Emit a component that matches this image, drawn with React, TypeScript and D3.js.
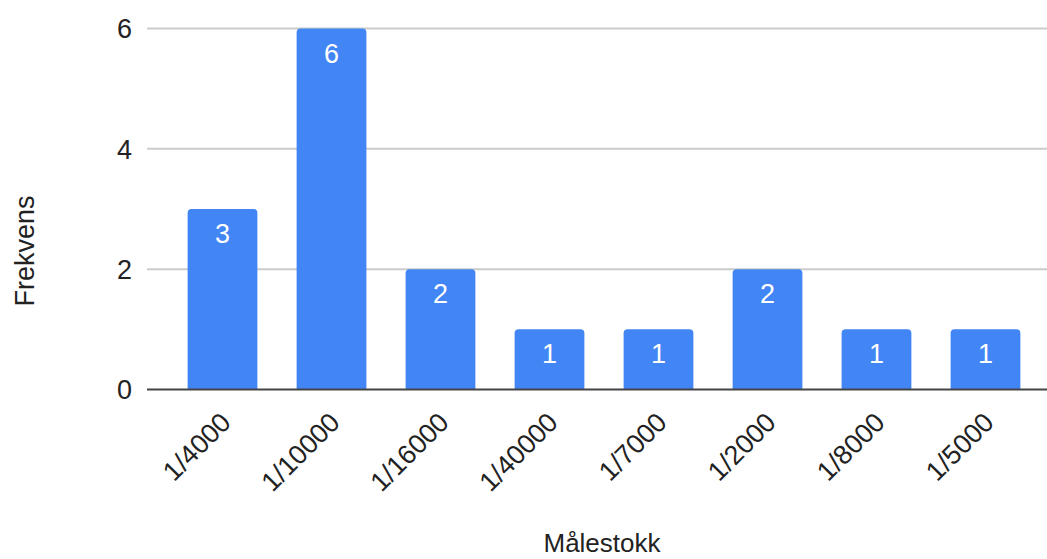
import { useEffect, useRef } from 'react'
import * as d3 from 'd3'

const categories = ['1/4000', '1/10000', '1/16000', '1/40000', '1/7000', '1/2000', '1/8000', '1/5000']
const counts = [3, 6, 2, 1, 1, 2, 1, 1]
const yTicks = [0, 2, 4, 6]

const WIDTH = 1047
const HEIGHT = 559
const BAR_COLOR = '#4285f4'
const FONT = 'Arial, "Liberation Sans", sans-serif'

export default function App() {
  const svgRef = useRef<SVGSVGElement>(null)

  useEffect(() => {
    if (!svgRef.current) return
    const svg = d3.select(svgRef.current)
    svg.selectAll('*').remove()

    const gridLeft = 147
    const gridRight = 1047

    const x = d3.scaleBand<string>()
      .domain(categories)
      .range([168, 1040])
      .paddingInner(0.36)
      .paddingOuter(0.18)

    const y = d3.scaleLinear().domain([0, 6]).range([389.5, 28.5])

    // gridlines
    svg.append('g')
      .selectAll('line')
      .data(yTicks.filter(t => t !== 0))
      .enter()
      .append('line')
      .attr('x1', gridLeft)
      .attr('x2', gridRight)
      .attr('y1', d => y(d))
      .attr('y2', d => y(d))
      .attr('stroke', '#cccccc')
      .attr('stroke-width', 2)

    // y tick labels
    svg.append('g')
      .selectAll('text')
      .data(yTicks)
      .enter()
      .append('text')
      .attr('x', 132)
      .attr('y', d => y(d))
      .attr('dy', '0.36em')
      .attr('text-anchor', 'end')
      .attr('font-family', FONT)
      .attr('font-size', 27)
      .attr('fill', '#222')
      .text(d => d)

    // bars with rounded top corners
    const r = 4
    const bars = svg.append('g')
      .selectAll('g')
      .data(categories.map((c, i) => ({ label: c, value: counts[i] })))
      .enter()
      .append('g')

    bars.append('path')
      .attr('d', d => {
        const x0 = x(d.label)!
        const x1 = x0 + x.bandwidth()
        const top = y(d.value)
        const bottom = y(0)
        return `M${x0},${bottom}V${top + r}Q${x0},${top} ${x0 + r},${top}H${x1 - r}Q${x1},${top} ${x1},${top + r}V${bottom}Z`
      })
      .attr('fill', BAR_COLOR)

    bars.append('text')
      .attr('x', d => x(d.label)! + x.bandwidth() / 2)
      .attr('y', d => y(d.value) + 34)
      .attr('text-anchor', 'middle')
      .attr('font-family', FONT)
      .attr('font-size', 27)
      .attr('fill', '#ffffff')
      .text(d => d.value)

    // baseline
    svg.append('line')
      .attr('x1', gridLeft)
      .attr('x2', gridRight)
      .attr('y1', y(0))
      .attr('y2', y(0))
      .attr('stroke', '#444444')
      .attr('stroke-width', 2)

    // x tick labels, rotated
    svg.append('g')
      .selectAll('text')
      .data(categories)
      .enter()
      .append('text')
      .attr('transform', d => `translate(${x(d)! + x.bandwidth() / 2 + 10},${424}) rotate(-45)`)
      .attr('text-anchor', 'end')
      .attr('font-family', FONT)
      .attr('font-size', 27)
      .attr('fill', '#222')
      .text(d => d)

    // axis titles
    svg.append('text')
      .attr('x', 602)
      .attr('y', 552)
      .attr('text-anchor', 'middle')
      .attr('font-family', FONT)
      .attr('font-size', 26)
      .attr('fill', '#222')
      .text('Målestokk')

    svg.append('text')
      .attr('transform', `translate(34,251) rotate(-90)`)
      .attr('text-anchor', 'middle')
      .attr('font-family', FONT)
      .attr('font-size', 27)
      .attr('fill', '#222')
      .text('Frekvens')
  }, [])

  return (
    <div style={{ position: 'absolute', left: 0, top: 0 }}>
      <svg ref={svgRef} width={WIDTH} height={HEIGHT} />
    </div>
  )
}
